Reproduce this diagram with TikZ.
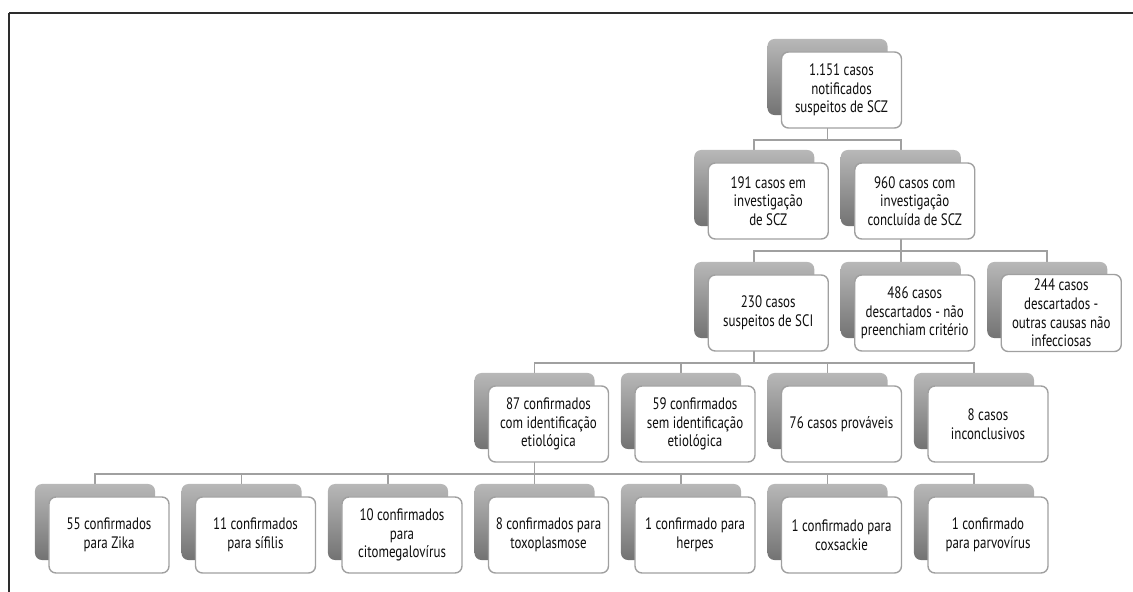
\documentclass[tikz,border=0pt]{standalone}
\usepackage{fontspec}
\setmainfont{PT Sans}[FakeStretch=0.78]
\usepackage{xcolor}
\usetikzlibrary{positioning,backgrounds,calc}

\definecolor{linegray}{RGB}{160,160,160}
\definecolor{edgegray}{RGB}{160,160,160}
\definecolor{framegray}{RGB}{45,45,45}

\begin{document}
\begin{tikzpicture}[x=0.025cm, y=-0.025cm,
    back/.style={rectangle, rounded corners=5pt, minimum width=3cm, minimum height=1.9cm, top color=black!28, bottom color=black!55, draw=none},
    card/.style={rectangle, rounded corners=5pt, draw=edgegray, line width=1pt, fill=white, minimum width=3cm, minimum height=1.9cm, align=center, font=\fontsize{11.8}{13.2}\selectfont, text=black!95},
    link/.style={draw=linegray, line width=1.3pt},
    frame/.style={draw=framegray, line width=1.3pt}
]
\useasboundingbox (0,0) rectangle (1133,592);

% Back shapes
\node[back] (notif_bg) at (827.5, 77) {};
\node[back] (em_inv_bg) at (754.25, 188) {};
\node[back] (concl_bg) at (900.75, 188) {};
\node[back] (sci_bg) at (754.25, 300) {};
\node[back] (desc_crit_bg) at (900.75, 300) {};
\node[back] (desc_outras_bg) at (1047.25, 300) {};
\node[back] (com_etio_bg) at (534.5, 411) {};
\node[back] (sem_etio_bg) at (681, 411) {};
\node[back] (provaveis_bg) at (827.5, 411) {};
\node[back] (inconcl_bg) at (974, 411) {};
\node[back] (zika_bg) at (95, 522) {};
\node[back] (sifilis_bg) at (241.5, 522) {};
\node[back] (cmv_bg) at (388, 522) {};
\node[back] (toxo_bg) at (534.5, 522) {};
\node[back] (herpes_bg) at (681, 522) {};
\node[back] (coxsackie_bg) at (827.5, 522) {};
\node[back] (parvo_bg) at (974, 522) {};

% Cards
\node[card] (notif) at (841.5, 90) {1.151 casos\\notificados\\suspeitos de SCZ};
\node[card] (em_inv) at (768.25, 201) {191 casos em\\investigação\\de SCZ};
\node[card] (concl) at (914.75, 201) {960 casos com\\investigação\\concluída de SCZ};
\node[card] (sci) at (768.25, 313) {230 casos\\suspeitos de SCI};
\node[card] (desc_crit) at (914.75, 313) {486 casos\\descartados - não\\preenchiam critério};
\node[card] (desc_outras) at (1061.25, 313) {244 casos\\descartados -\\outras causas não\\infecciosas};
\node[card] (com_etio) at (548.5, 424) {87 confirmados\\com identificação\\etiológica};
\node[card] (sem_etio) at (695, 424) {59 confirmados\\sem identificação\\etiológica};
\node[card] (provaveis) at (841.5, 424) {76 casos prováveis};
\node[card] (inconcl) at (988, 424) {8 casos\\inconclusivos};
\node[card] (zika) at (109, 535) {55 confirmados\\para Zika};
\node[card] (sifilis) at (255.5, 535) {11 confirmados\\para sífilis};
\node[card] (cmv) at (402, 535) {10 confirmados\\para\\citomegalovírus};
\node[card] (toxo) at (548.5, 535) {8 confirmados para\\toxoplasmose};
\node[card] (herpes) at (695, 535) {1 confirmado para\\herpes};
\node[card] (coxsackie) at (841.5, 535) {1 confirmado para\\coxsackie};
\node[card] (parvo) at (988, 535) {1 confirmado\\para parvovírus};

% Connections
\begin{scope}[on background layer]
\foreach \p/\c in {notif/em_inv, notif/concl,
    concl/sci, concl/desc_crit, concl/desc_outras,
    sci/com_etio, sci/sem_etio, sci/provaveis, sci/inconcl,
    com_etio/zika, com_etio/sifilis, com_etio/cmv, com_etio/toxo,
    com_etio/herpes, com_etio/coxsackie, com_etio/parvo}
    \draw[link] (\p_bg.south) -- ++(0,25) -| (\c_bg.north);
\end{scope}

% Page frame
\draw[frame] (9,13) -- (1133,13);
\draw[frame] (9,13) -- (9,592);

\end{tikzpicture}
\end{document}
